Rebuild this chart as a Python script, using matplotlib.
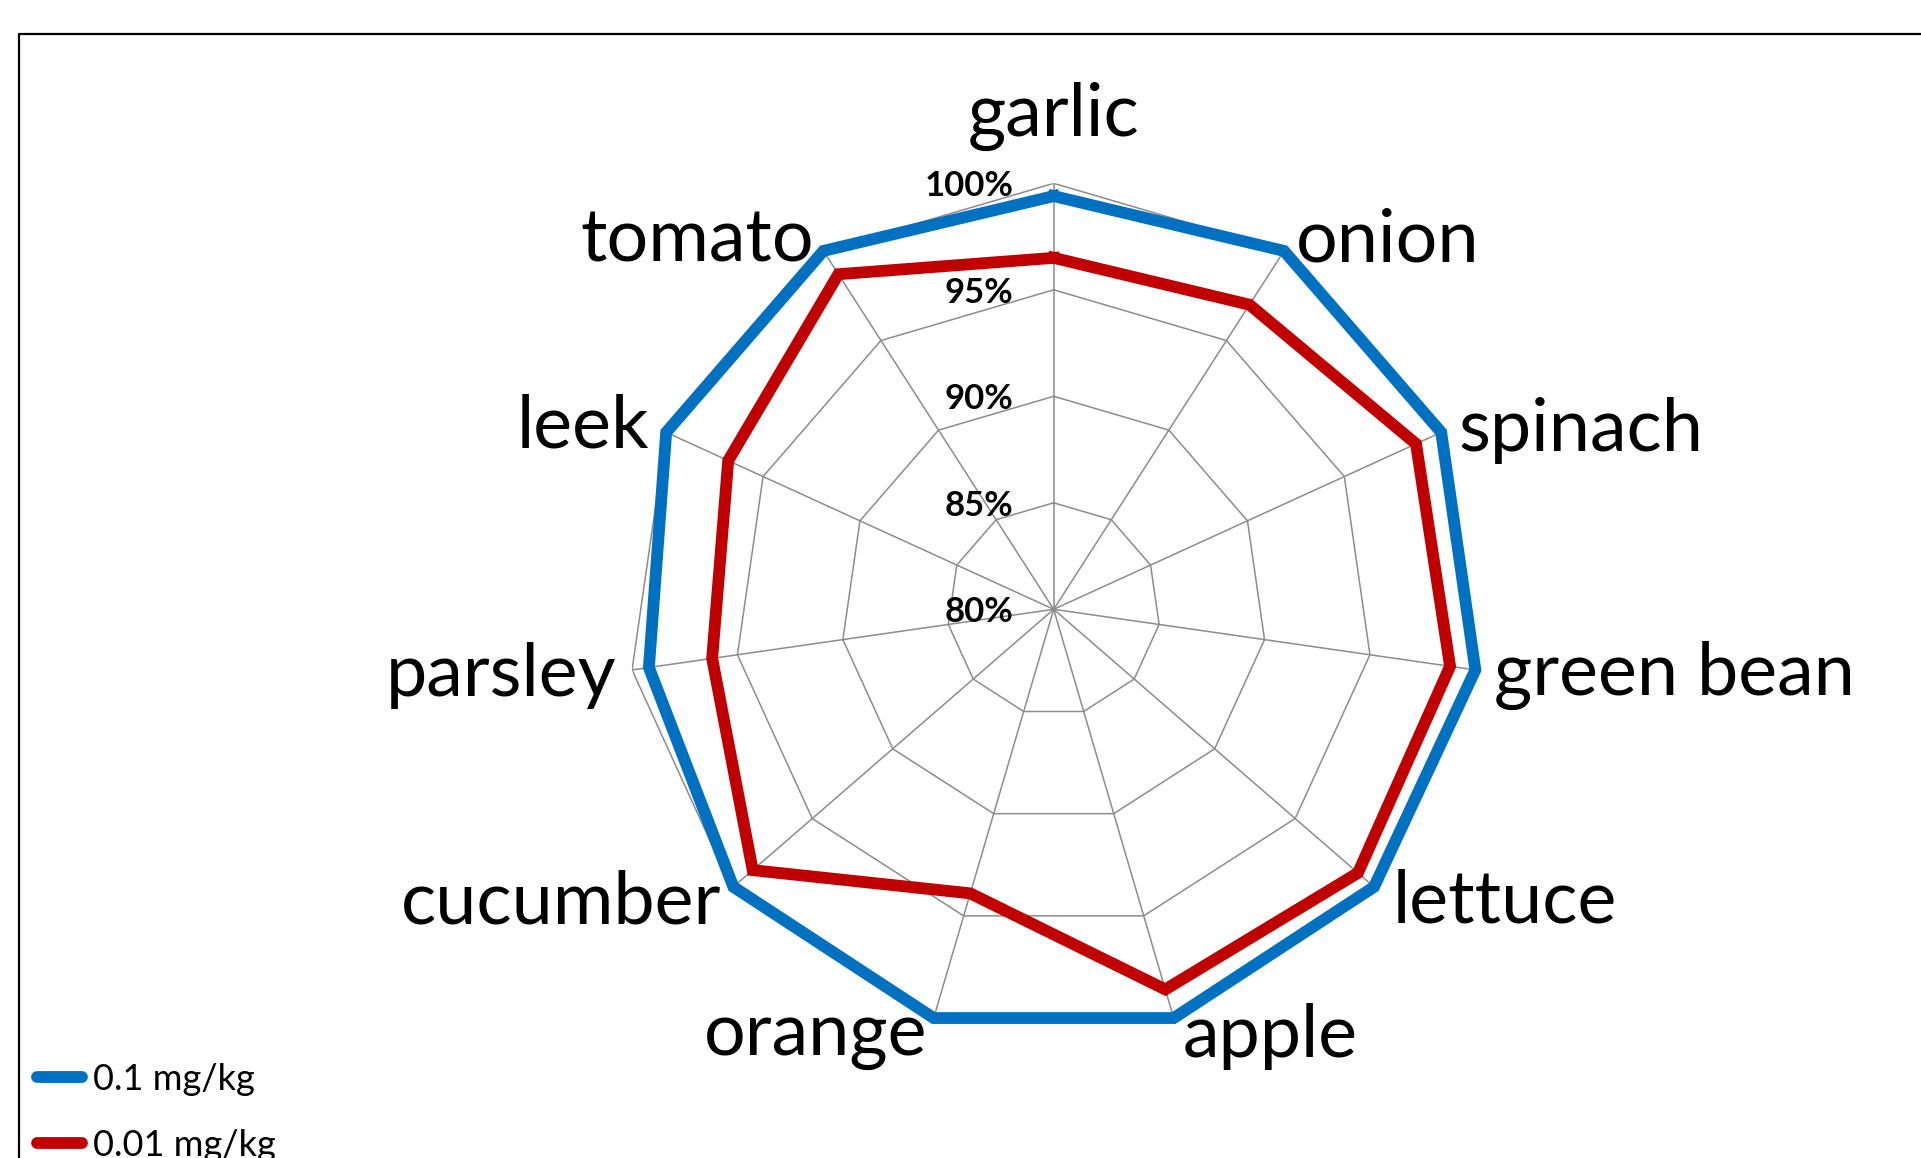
import numpy as np
import matplotlib
matplotlib.use("Agg")
import matplotlib.pyplot as plt
from matplotlib.lines import Line2D

plt.rcParams['font.family'] = ['Lato', 'DejaVu Sans']

# Data (recovery, %)
categories = ['garlic', 'onion', 'spinach', 'green bean', 'lettuce', 'apple',
              'orange', 'cucumber', 'parsley', 'leek', 'tomato']
recovery_01 = [99.4, 100.0, 100.0, 100.0, 99.9, 100.0, 100.0, 99.9, 99.2, 100.0, 100.0]
recovery_001 = [96.5, 97.0, 98.7, 98.8, 98.9, 98.6, 93.9, 98.7, 96.2, 96.8, 98.7]
series_names = ['0.1 mg/kg', '0.01 mg/kg']
ring_levels = [80, 85, 90, 95, 100]
ring_labels = ['80%', '85%', '90%', '95%', '100%']

# label offsets (pixels) from the 100% vertex, and alignment
label_offsets = [(0, 67), (12, 10), (17, 2), (19, -6), (17, -14), (9, -18),
                 (-6, -18), (-11, -15), (-16, -6), (-17, 5), (-9, 10)]
label_ha = ['center', 'left', 'left', 'left', 'left', 'left',
            'right', 'right', 'right', 'right', 'right']

W, H = 1921, 1158
fig = plt.figure(figsize=(W / 100, H / 100), dpi=100)

# chart centre and radius in pixels
cx, cy, rad = 1053.7, 609.3, 426
ax = fig.add_axes([(cx - rad) / W, (H - cy - rad) / H, 2 * rad / W, 2 * rad / H],
                  projection='polar')
ax.set_theta_offset(np.pi / 2)
ax.set_theta_direction(-1)
ax.set_ylim(80, 100)
ax.set_xticks([])
ax.set_yticks([])
ax.grid(False)
ax.spines['polar'].set_visible(False)
ax.patch.set_alpha(0)

n = len(categories)
angles = np.arange(n) * 2 * np.pi / n
closed = np.append(angles, angles[0])

grid_col = '#8c8c8c'
for lvl in ring_levels[1:]:
    ax.plot(closed, [lvl] * (n + 1), color=grid_col, lw=1.1, zorder=1)
for a in angles:
    ax.plot([a, a], [80, 100], color=grid_col, lw=1.1, zorder=1)

blue = '#0070C0'
red = '#C00000'
ax.plot(closed, np.append(recovery_01, recovery_01[0]), color=blue, lw=8.5,
        solid_joinstyle='miter', zorder=3, clip_on=False)
ax.plot(closed, np.append(recovery_001, recovery_001[0]), color=red, lw=8.5,
        solid_joinstyle='miter', zorder=3, clip_on=False)

# radial tick labels
for lvl, txt in zip(ring_levels, ring_labels):
    ax.annotate(txt, xy=(0, lvl), xytext=(-40, -3), textcoords='offset pixels',
                ha='right', va='center', fontsize=25, fontweight='bold', zorder=4)

# category labels
for a, cat, off, ha in zip(angles, categories, label_offsets, label_ha):
    ax.annotate(cat, xy=(a, 100), xytext=off, textcoords='offset pixels',
                ha=ha, va='center', fontsize=53, annotation_clip=False)

# legend
handles = [Line2D([], [], color=blue, lw=8.5, solid_capstyle='round'),
           Line2D([], [], color=red, lw=8.5, solid_capstyle='round')]
fig.legend(handles, series_names, loc='upper left',
           bbox_to_anchor=(37 / W, 1 - 1063 / H), frameon=False, fontsize=26,
           handlelength=1.25, handletextpad=0.3, labelspacing=0.9,
           borderpad=0, borderaxespad=0)

# outer chart frame (cropped)
fig.add_artist(Line2D([19 / W, 19 / W, 1], [0, 1 - 34 / H, 1 - 34 / H],
                      transform=fig.transFigure, color='black', lw=1.6))

fig.savefig('out.png', dpi=100)
